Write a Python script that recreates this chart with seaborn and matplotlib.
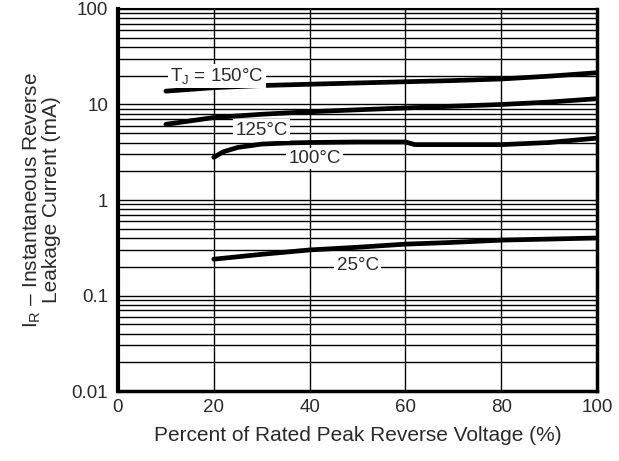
import numpy as np
import pandas as pd
import matplotlib
matplotlib.use("Agg")
import matplotlib.pyplot as plt
import seaborn as sns
from matplotlib.ticker import LogLocator, FixedLocator, NullFormatter

# ---- data ----
x150 = [10, 20, 30, 40, 50, 60, 70, 80, 90, 100]
y150 = [13.8, 15.0, 15.8, 16.3, 16.8, 17.3, 17.8, 18.5, 19.8, 21.5]
x125 = [10, 20, 30, 40, 50, 60, 70, 80, 90, 100]
y125 = [6.2, 7.3, 7.9, 8.4, 8.8, 9.2, 9.6, 10.0, 10.6, 11.5]
x100 = [20, 22, 25, 30, 35, 40, 50, 60, 62, 70, 80, 90, 100]
y100 = [2.8, 3.2, 3.55, 3.85, 3.95, 4.0, 4.05, 4.05, 3.8, 3.8, 3.8, 4.0, 4.45]
x25 = [20, 30, 40, 50, 60, 70, 80, 90, 100]
y25 = [0.24, 0.27, 0.30, 0.32, 0.345, 0.36, 0.38, 0.39, 0.40]

labels = [r"T$_{\mathrm{J}}$ = 150°C", "125°C", "100°C", "25°C"]
label_x = [20.6, 30, 41, 50]
label_y = [20, 5.4, 2.7, 0.205]

xticks = [0, 20, 40, 60, 80, 100]
yticks = [0.01, 0.1, 1, 10, 100]
yticklabels = ["0.01", "0.1", "1", "10", "100"]

sns.set_theme(style="white")
plt.rcParams['font.family'] = ['Liberation Sans', 'DejaVu Sans']
plt.rcParams['mathtext.fontset'] = 'custom'
plt.rcParams['mathtext.rm'] = 'Liberation Sans'
plt.rcParams['mathtext.it'] = 'Liberation Sans'

fig = plt.figure(figsize=(6.19, 4.61), dpi=100)
ax = fig.add_axes([0.1906, 0.1518, 0.7739, 0.8287])

frames = []
for name, xs, ys in [("150", x150, y150), ("125", x125, y125),
                     ("100", x100, y100), ("25", x25, y25)]:
    frames.append(pd.DataFrame({"x": xs, "y": ys, "series": name}))
df = pd.concat(frames, ignore_index=True)

for name in ["150", "125", "100", "25"]:
    sub = df[df["series"] == name]
    sns.lineplot(data=sub, x="x", y="y", ax=ax, color="black",
                 linewidth=3.4, zorder=3, estimator=None, sort=False)

ax.set_yscale("log")
ax.set_xlim(0, 100)
ax.set_ylim(0.01, 100)

ax.set_xticks(xticks)
ax.set_xticklabels([str(t) for t in xticks])
ax.set_yticks(yticks)
ax.set_yticklabels(yticklabels)
ax.yaxis.set_minor_locator(LogLocator(base=10, subs=np.arange(2, 10)))
ax.yaxis.set_minor_formatter(NullFormatter())
ax.xaxis.set_minor_locator(FixedLocator([]))

ax.grid(True, which="both", axis="y", color="black", linewidth=1.0, zorder=1)
ax.grid(True, which="major", axis="x", color="black", linewidth=1.0, zorder=1)
ax.set_axisbelow(True)

ax.tick_params(axis="both", which="both", length=0, labelsize=13.5,
               labelcolor="#2a2a2a")
ax.tick_params(axis="x", pad=6)
ax.tick_params(axis="y", pad=7)

for side, lw in [("left", 3.0), ("bottom", 2.5), ("right", 2.5), ("top", 1.5)]:
    ax.spines[side].set_visible(True)
    ax.spines[side].set_color("black")
    ax.spines[side].set_linewidth(lw)

for t, lx, ly in zip(labels, label_x, label_y):
    ax.text(lx, ly, t, fontsize=13.5, color="#2a2a2a", ha="center", va="center",
            zorder=4, bbox=dict(facecolor="white", edgecolor="none", pad=1.5))

ax.set_xlabel("Percent of Rated Peak Reverse Voltage (%)", fontsize=15,
              color="#2a2a2a", labelpad=7)
ax.set_ylabel(r"I$_{\mathrm{R}}$ – Instantaneous Reverse" + "\n" +
              "Leakage Current (mA)", fontsize=15, color="#2a2a2a",
              labelpad=8, linespacing=0.9)

fig.savefig("out.png", dpi=100)
